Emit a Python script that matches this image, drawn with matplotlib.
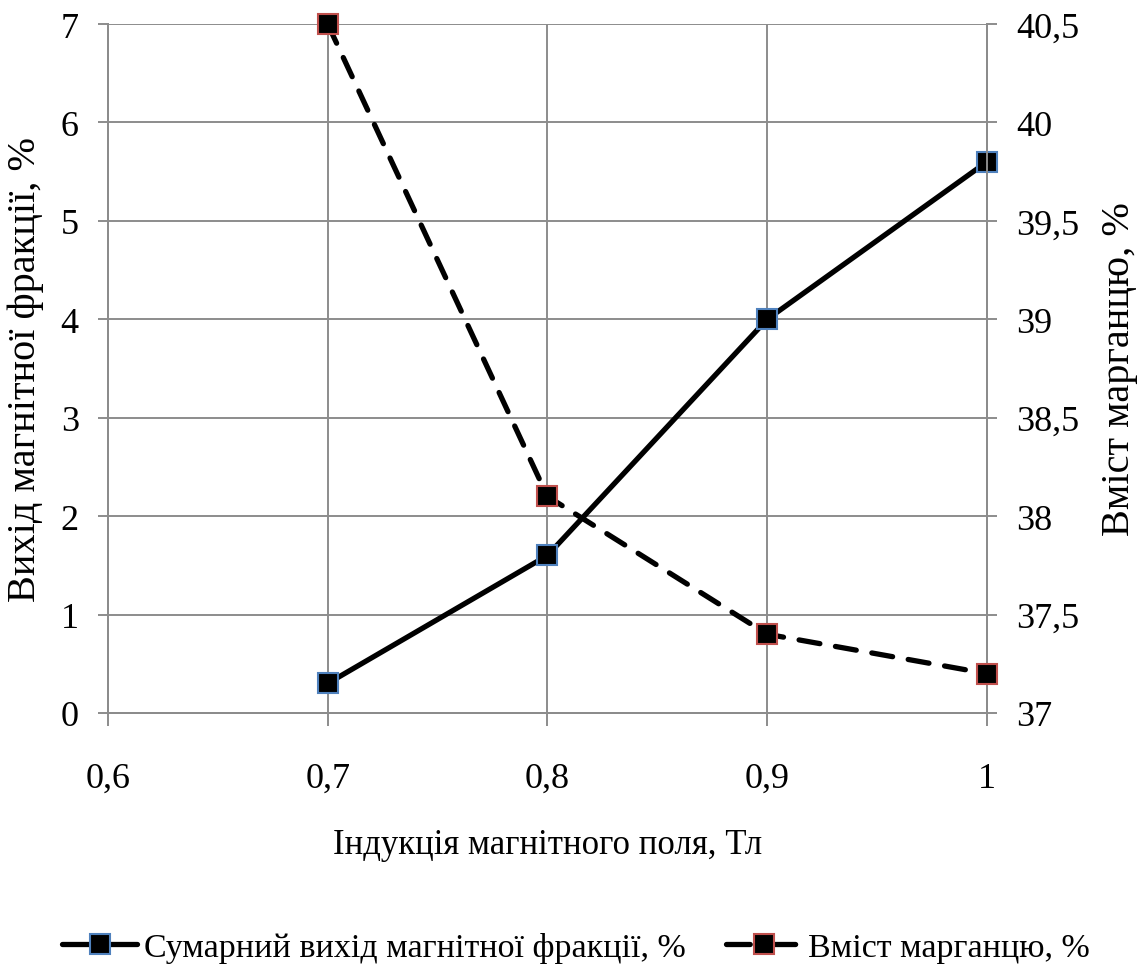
import matplotlib
matplotlib.use("Agg")
import matplotlib.pyplot as plt
from matplotlib.lines import Line2D
from matplotlib.ticker import FuncFormatter

# induction values, Tl
induction = [0.7, 0.8, 0.9, 1.0]
# total yield of magnetic fraction, %
yield_pct = [0.3, 1.6, 4.0, 5.6]
# manganese content, %
mn_pct = [40.5, 38.1, 37.4, 37.2]

x_ticks = [0.6, 0.7, 0.8, 0.9, 1.0]
left_ticks = [0, 1, 2, 3, 4, 5, 6, 7]
right_ticks = [37, 37.5, 38, 38.5, 39, 39.5, 40, 40.5]

plt.rcParams["font.family"] = ["Liberation Serif", "DejaVu Serif"]
FS = 26
GRID = "#8c8c8c"


def comma_fmt(v, pos=None):
    s = f"{v:g}"
    return s.replace(".", ",")


fig = plt.figure(figsize=(11.46, 9.78), dpi=100)
ax = fig.add_axes([0.0942, 0.270, 0.767, 0.7044])
ax2 = ax.twinx()

l1, = ax.plot(induction, yield_pct, color="black", lw=3.8, marker="s", ms=15,
              mfc="black", mec="#4F81BD", mew=1.5, solid_capstyle="round",
              label="Сумарний вихід магнітної фракції, %", zorder=3, clip_on=False)
l2, = ax2.plot(induction, mn_pct, color="black", lw=3.8, ls=(0, (4, 3)), marker="s", ms=15,
               mfc="black", mec="#C0504D", mew=1.5, dash_capstyle="round",
               label="Вміст марганцю, %", zorder=3, clip_on=False)

# legend key for the dashed series: one dash on each side of the marker
l2_key = Line2D([], [], color="black", lw=3.8, ls=(0, (4.5, 4.1)), marker="s", ms=15,
                mfc="black", mec="#C0504D", mew=1.5, dash_capstyle="round",
                label=l2.get_label())

ax.set_xlim(0.6, 1.0)
ax.set_ylim(0, 7)
ax2.set_ylim(37, 40.5)
ax.set_xticks(x_ticks)
ax.set_yticks(left_ticks)
ax2.set_yticks(right_ticks)
for a in (ax, ax2):
    a.xaxis.set_major_formatter(FuncFormatter(comma_fmt))
    a.yaxis.set_major_formatter(FuncFormatter(comma_fmt))
    for sp in a.spines.values():
        sp.set_color(GRID)
        sp.set_linewidth(1.4)
    a.tick_params(colors=GRID, labelcolor="black", labelsize=FS, length=7, width=1.4)
ax.spines["top"].set_visible(False)
ax2.spines["top"].set_visible(False)

ax.grid(True, color=GRID, lw=1.4)
ax.set_axisbelow(True)
ax.tick_params(axis="x", length=9, pad=26)
ax.tick_params(axis="y", pad=14)
ax2.tick_params(axis="y", pad=14)

ax.set_xlabel("Індукція магнітного поля, Тл", fontsize=25, labelpad=24)
ax.set_ylabel("Вихід магнітної фракції, %", fontsize=29, labelpad=12)
ax2.set_ylabel("Вміст марганцю, %", fontsize=29, labelpad=16)

fig.legend(handles=[l1, l2_key], loc="center", bbox_to_anchor=(0.5026, 0.03), ncol=2,
           frameon=False, fontsize=24.5, handlelength=2.2, handletextpad=0.2,
           columnspacing=1.2, borderaxespad=0, borderpad=0)

fig.savefig("out.png", dpi=100)
